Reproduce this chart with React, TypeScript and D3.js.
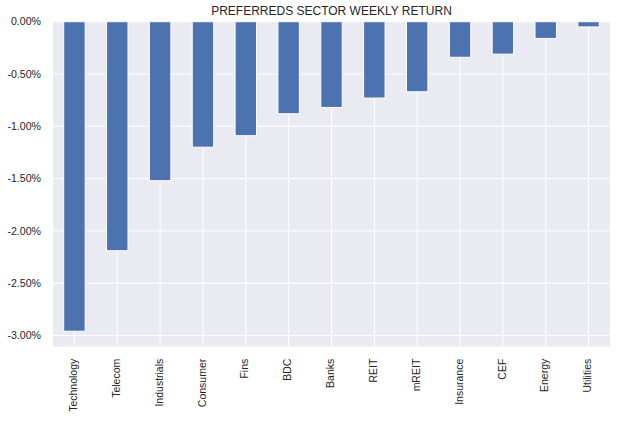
import React from "react";
import * as d3 from "d3";

const categories = ["Technology", "Telecom", "Industrials", "Consumer", "Fins", "BDC", "Banks", "REIT", "mREIT", "Insurance", "CEF", "Energy", "Utilities"];
const returns = [-2.96, -2.19, -1.52, -1.2, -1.09, -0.88, -0.82, -0.73, -0.67, -0.34, -0.31, -0.16, -0.05];
const yTicks = [0, -0.5, -1.0, -1.5, -2.0, -2.5, -3.0];
const title = "PREFERREDS SECTOR WEEKLY RETURN";

const W = 622, H = 421;
const M = { left: 53, right: 12, top: 21.7, bottom: 74.3 };

export default function App() {
  const pw = W - M.left - M.right;
  const ph = H - M.top - M.bottom;
  const minV = d3.min(returns) as number;
  const y = d3.scaleLinear().domain([minV * 1.05, 0]).range([ph, 0]);
  const x = d3.scaleBand().domain(categories).range([0, pw]).paddingInner(0.5).paddingOuter(0.25);
  const font = "'Liberation Sans', Arial, sans-serif";
  const fmt = (t: number) => d3.format(".2f")(t).replace("\u2212", "-") + "%";
  return (
    <svg width={W} height={H} style={{ position: "absolute", left: 0, top: 0 }}>
      <rect width={W} height={H} fill="#fff" />
      <text x={M.left + pw / 2} y={15} textAnchor="middle" fontFamily={font} fontSize={12} fill="#262626">{title}</text>
      <g transform={`translate(${M.left},${M.top})`}>
        <rect width={pw} height={ph} fill="#EAEAF2" />
        {yTicks.map((t) => (
          <line key={t} x1={0} x2={pw} y1={y(t)} y2={y(t)} stroke="#fff" strokeWidth={1} />
        ))}
        {categories.map((c) => (
          <line key={c} x1={(x(c) as number) + x.bandwidth() / 2} x2={(x(c) as number) + x.bandwidth() / 2} y1={0} y2={ph} stroke="#fff" strokeWidth={1} />
        ))}
        {categories.map((c, i) => (
          <rect key={c} x={x(c)} y={y(0)} width={x.bandwidth()} height={y(returns[i]) - y(0)} fill="#4C72B0" stroke="#fff" strokeWidth={1} />
        ))}
        {yTicks.map((t) => (
          <text key={t} x={-12} y={y(t)} dy="0.35em" textAnchor="end" fontFamily={font} fontSize={10.6} fill="#262626">{fmt(t)}</text>
        ))}
        {categories.map((c) => (
          <text key={c} transform={`translate(${(x(c) as number) + x.bandwidth() / 2 - 1},${ph + 12}) rotate(-90)`} dy="0.35em" textAnchor="end" fontFamily={font} fontSize={10.5} fill="#262626">{c}</text>
        ))}
      </g>
    </svg>
  );
}
